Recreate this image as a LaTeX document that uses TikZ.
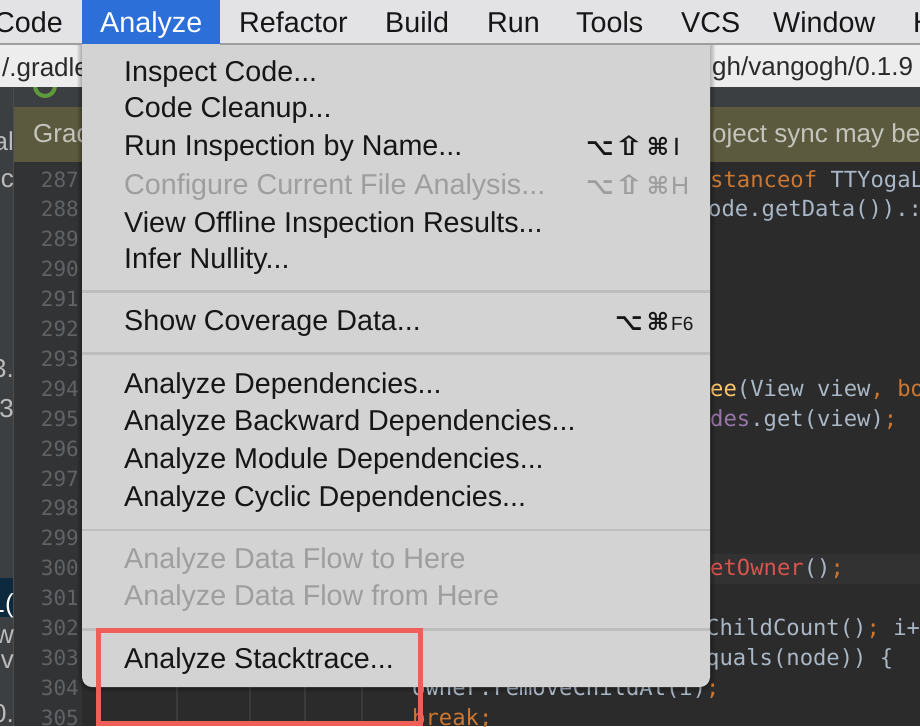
\documentclass[tikz,border=0pt]{standalone}
\usepackage{graphicx}
\usepackage{fontspec}
\setmainfont{Liberation Sans}
\newfontfamily\codefont{DejaVu Sans Mono}
\newfontfamily\symfont{DejaVu Sans}
\definecolor{editorbg}{HTML}{2B2B2B}
\definecolor{gutterbg}{HTML}{313335}
\definecolor{panelbg}{HTML}{3C3F41}
\definecolor{olivebg}{HTML}{5C5A3E}
\definecolor{pathbg}{HTML}{EDEDED}
\definecolor{menubarbg}{HTML}{E3E3E5}
\definecolor{hiblue}{HTML}{2D6FD8}
\definecolor{menubg}{HTML}{D3D3D3}
\definecolor{sepc}{HTML}{BDBDBD}
\definecolor{menutext}{HTML}{161616}
\definecolor{distext}{HTML}{9E9E9E}
\definecolor{kwc}{HTML}{CC7832}
\definecolor{plc}{HTML}{A9B7C6}
\definecolor{mtc}{HTML}{FFC66D}
\definecolor{fdc}{HTML}{9876AA}
\definecolor{errc}{HTML}{D9534F}
\definecolor{lnumc}{HTML}{606366}
\definecolor{curline}{HTML}{323232}
\definecolor{redbox}{HTML}{EE5F57}
\definecolor{pathtext}{HTML}{2A2A2A}
\definecolor{olivetext}{HTML}{C4C4BC}
\definecolor{paneltext}{HTML}{BBBBBB}
\definecolor{selrow}{HTML}{0D293E}
\definecolor{guide}{HTML}{3B3B3B}
\definecolor{ringc}{HTML}{5E9B3B}
\newcommand{\ckw}[1]{\textcolor{kwc}{#1}}
\newcommand{\cpl}[1]{\textcolor{plc}{#1}}
\newcommand{\cmt}[1]{\textcolor{mtc}{#1}}
\newcommand{\cfd}[1]{\textcolor{fdc}{#1}}
\newcommand{\cer}[1]{\textcolor{errc}{#1}}
\newcommand{\shiftsym}{\scalebox{1.55}[1.1]{⇧}}
\begin{document}
\begin{tikzpicture}[x=1pt,y=-1pt,
  mbar/.style={anchor=base west,inner sep=0pt,font=\fontsize{28.7}{32}\selectfont,text=menutext},
  mitem/.style={anchor=base west,inner sep=0pt,font=\fontsize{28.7}{32}\selectfont,text=menutext},
  disitem/.style={mitem,text=distext},
  modsym/.style={anchor=base,inner sep=0pt,font=\symfont\bfseries\fontsize{24}{26}\selectfont,text=menutext},
  keych/.style={anchor=base west,inner sep=0pt,font=\fontsize{25}{28}\selectfont,text=menutext},
  src/.style={anchor=base west,inner sep=0pt,font=\codefont\fontsize{22.2}{24}\selectfont,text=plc},
  lnum/.style={anchor=base east,inner sep=0pt,font=\codefont\fontsize{21}{24}\selectfont,text=lnumc},
  pathtxt/.style={anchor=base west,inner sep=0pt,font=\fontsize{26}{28}\selectfont,text=pathtext},
  olivetxt/.style={anchor=base west,inner sep=0pt,font=\fontsize{26}{28}\selectfont,text=olivetext},
  paneltxt/.style={anchor=base east,inner sep=0pt,font=\fontsize{26}{28}\selectfont,text=paneltext},
  sepline/.style={draw=sepc,line width=2.5pt},
]
\useasboundingbox (0,0) rectangle (920,726);
% editor background
\fill[editorbg] (0,0) rectangle (920,726);
\fill[curline] (82,553.5) rectangle (920,583.5);
% left panel and gutter
\fill[panelbg] (0,87) rectangle (13,726);
\fill[gutterbg] (14,162) rectangle (82,726);
\draw[black!70,line width=1pt] (13.5,87) -- (13.5,726);
\fill[selrow] (0,578) rectangle (13,617);
% notification bar
\fill[olivebg] (14,107) rectangle (920,162);
% tab bar
\fill[panelbg] (14,87) rectangle (920,107);
\draw[ringc,line width=4pt] (45,86) circle[radius=10];
% path bar
\fill[pathbg] (0,44) rectangle (920,87);
\node[pathtxt] (pathl) at (2,76) {/.gradle};
\node[pathtxt] (pathr) at (712,75.5) {gh/vangogh/0.1.9};
\node[olivetxt] (olivel) at (33,142) {Grad};
\node[olivetxt] (oliver) at (712,142) {oject sync may be};
% left panel fragments
\begin{scope}
\clip (0,87) rectangle (13,726);
\node[paneltxt] (p1) at (14,150) {al};
\node[paneltxt] (p2) at (14,187) {ic};
\node[paneltxt] (p3) at (14,377) {3.};
\node[paneltxt] (p4) at (14,417) {3};
\node[paneltxt,text=white] (p5) at (14,612) {1(};
\node[paneltxt] (p6) at (14,643) {ew};
\node[paneltxt] (p7) at (14,668) {v};
\node[paneltxt] (p8) at (14,722) {0.};
\end{scope}
% line numbers
\foreach \n [count=\i from 0] in {287,...,305} {
  \node[lnum] (ln\n) at (79,{187+\i*29.9}) {\n};
}
% code fragments
\node[src] (c287) at (710,187) {\ckw{stanceof} TTYogaL};
\node[src] (c288) at (708,216.9) {ode.getData()).:};
\node[src] (c294) at (710,396.3) {\cmt{ee}(View view\ckw{, bo}};
\node[src] (c295) at (710,426.2) {\cfd{des}.get(view)\ckw{;}};
\node[src] (c300) at (710,575.7) {\cer{etOwner}()\ckw{;}};
\node[src] (c302) at (706,635.5) {ChildCount()\ckw{;} i+};
\node[src] (c303) at (706,665.4) {quals(node)) \{};
\node[src] (c304) at (412,695.3) {owner.removeChildAt(i)\ckw{;}};
\node[src] (c305) at (412,725.2) {\ckw{break;}};
% indent guides
\foreach \gx in {177,250,305,362} {
  \draw[guide,line width=1.5pt] (\gx,686) -- (\gx,726);
}
% menu shadow
\foreach \s in {1,2,3,4,5} {
  \fill[black,opacity=0.05,rounded corners={10+\s}] ({82-\s},30) rectangle ({710+\s},{687+\s});
}
% menu
\fill[menubg,rounded corners=10] (82,30) rectangle (710,687);
\draw[sepline] (82,291.5) -- (710,291.5);
\draw[sepline] (82,353.5) -- (710,353.5);
\draw[sepline] (82,530) -- (710,530);
\draw[sepline] (82,629.5) -- (710,629.5);
\node[mitem] (m1) at (124,81) {Inspect Code...};
\node[mitem] (m2) at (124,117) {Code Cleanup...};
\node[mitem] (m3) at (124,155) {Run Inspection by Name...};
\node[disitem] (m4) at (124,194) {Configure Current File Analysis...};
\node[mitem] (m5) at (124,232) {View Offline Inspection Results...};
\node[mitem] (m6) at (124,268) {Infer Nullity...};
\node[mitem] (m7) at (124,330) {Show Coverage Data...};
\node[mitem] (m8) at (124,393) {Analyze Dependencies...};
\node[mitem] (m9) at (124,430) {Analyze Backward Dependencies...};
\node[mitem] (m10) at (124,468) {Analyze Module Dependencies...};
\node[mitem] (m11) at (124,506) {Analyze Cyclic Dependencies...};
\node[disitem] (m12) at (124,568) {Analyze Data Flow to Here};
\node[disitem] (m13) at (124,605) {Analyze Data Flow from Here};
\node[mitem] (m14) at (124,668) {Analyze Stacktrace...};
% shortcuts
\node[modsym] (s3a) at (600,155) {⌥};
\node[modsym] (s3b) at (629,155) {\shiftsym};
\node[modsym] (s3c) at (658,155) {⌘};
\node[keych] (s3d) at (673,155) {I};
\node[modsym,text=distext] (s4a) at (600,194) {⌥};
\node[modsym,text=distext] (s4b) at (629,194) {\shiftsym};
\node[modsym,text=distext] (s4c) at (658,194) {⌘};
\node[keych,text=distext] (s4d) at (671,194) {H};
\node[modsym] (s7a) at (629,330) {⌥};
\node[modsym] (s7b) at (658,330) {⌘};
\node[keych,font=\fontsize{19}{22}\selectfont] (s7c) at (671,330) {F6};
% menubar
\fill[menubarbg] (0,0) rectangle (920,43);
\draw[black!38,line width=2pt] (0,43.5) -- (82,43.5);
\draw[black!38,line width=2pt] (220,43.5) -- (920,43.5);
\fill[hiblue] (82,0) rectangle (220,43.5);
\node[mbar,anchor=base east] (b1) at (63,32) {Code};
\node[mbar,text=white] (b2) at (100,32) {Analyze};
\node[mbar] (b3) at (239,32) {Refactor};
\node[mbar] (b4) at (385,32) {Build};
\node[mbar] (b5) at (487,32) {Run};
\node[mbar] (b6) at (576,32) {Tools};
\node[mbar] (b7) at (681,32) {VCS};
\node[mbar] (b8) at (773,32) {Window};
\node[mbar] (b9) at (913,32) {H};
% highlight box
\draw[redbox,line width=5pt] (98.5,630) rectangle (420.5,723);
\end{tikzpicture}
\end{document}
